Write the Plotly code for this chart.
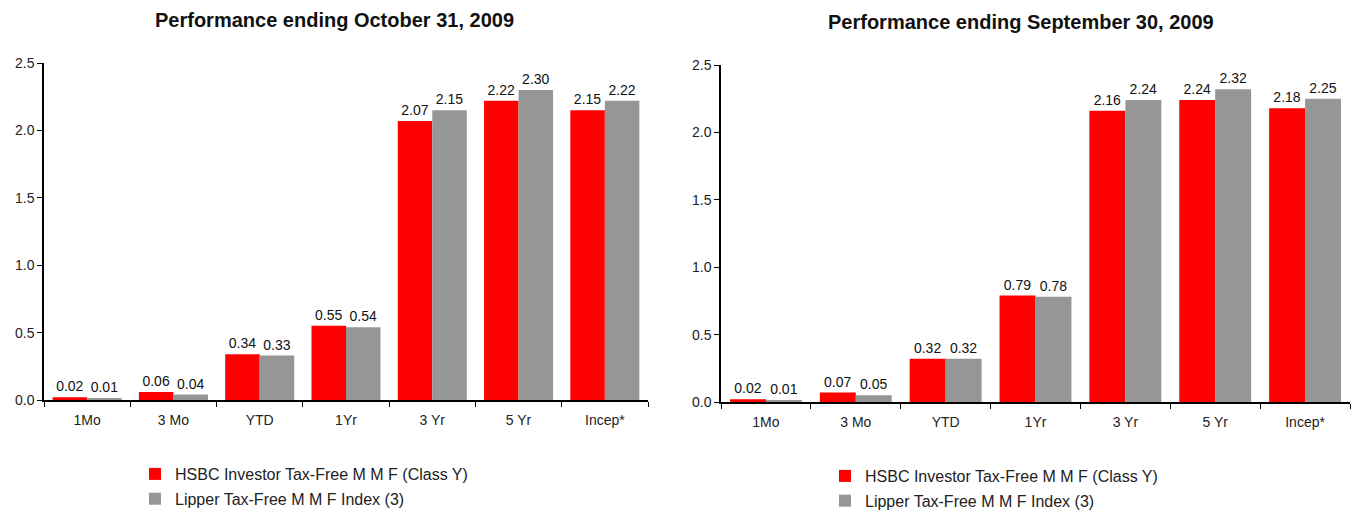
import plotly.graph_objects as go

categories = ["1Mo", "3 Mo", "YTD", "1Yr", "3 Yr", "5 Yr", "Incep*"]
oct_hsbc = [0.02, 0.06, 0.34, 0.55, 2.07, 2.22, 2.15]
oct_lipper = [0.01, 0.04, 0.33, 0.54, 2.15, 2.30, 2.22]
sep_hsbc = [0.02, 0.07, 0.32, 0.79, 2.16, 2.24, 2.18]
sep_lipper = [0.01, 0.05, 0.32, 0.78, 2.24, 2.32, 2.25]
series_names = ["HSBC Investor Tax-Free M M F (Class Y)", "Lipper Tax-Free M M F Index (3)"]
titles = ["Performance ending October 31, 2009", "Performance ending September 30, 2009"]
y_ticks = [0.0, 0.5, 1.0, 1.5, 2.0, 2.5]

RED = "#FF0000"
GRAY = "#969696"
FONT = "Liberation Sans, Arial, sans-serif"
W, H = 1356, 511

fig = go.Figure()

def add_pair(h, l, xa, ya, leg):
    for i, (vals, name, col) in enumerate([(h, series_names[0], RED), (l, series_names[1], GRAY)]):
        fig.add_trace(go.Bar(
            x=categories, y=vals, name=name, marker=dict(color=col, line=dict(width=0)),
            text=[f"{v:.2f}" for v in vals], textposition="outside",
            textfont=dict(size=14, color="#111", family=FONT), cliponaxis=False,
            constraintext="none", legendgroup=f"{leg}_{i}",
            xaxis=xa, yaxis=ya, legend=leg,
        ))

add_pair(oct_hsbc, oct_lipper, "x", "y", "legend")
add_pair(sep_hsbc, sep_lipper, "x2", "y2", "legend2")

def px_x(v):
    return v / W

def px_y(v):
    return 1 - v / H

axis_common = dict(showline=True, linecolor="black", linewidth=1.5, showgrid=False, zeroline=False,
                   ticks="outside", ticklen=5, tickcolor="black", automargin=False,
                   tickfont=dict(size=14, color="#222", family=FONT))

legend_common = dict(xanchor="left", yanchor="top", font=dict(size=16, color="#222", family=FONT),
                     tracegroupgap=1, itemwidth=30, bgcolor="rgba(0,0,0,0)")

fig.update_layout(
    width=W, height=H, margin=dict(l=0, r=0, t=0, b=0, autoexpand=False),
    plot_bgcolor="white", paper_bgcolor="white",
    barmode="group", bargap=0.2, bargroupgap=0.0,
    font=dict(family=FONT),
    xaxis=dict(domain=[px_x(44), px_x(648)], anchor="y", tickson="boundaries",
               ticklabelstandoff=6, **axis_common),
    yaxis=dict(domain=[px_y(400), px_y(63)], anchor="x", range=[0, 2.5], tickvals=y_ticks,
               tickformat=".1f", **axis_common),
    xaxis2=dict(domain=[px_x(721), px_x(1350)], anchor="y2", tickson="boundaries",
                ticklabelstandoff=6, **axis_common),
    yaxis2=dict(domain=[px_y(402), px_y(65)], anchor="x2", range=[0, 2.5], tickvals=y_ticks,
                tickformat=".1f", **axis_common),
    legend=dict(x=px_x(135), y=px_y(457), **legend_common),
    legend2=dict(x=px_x(825), y=px_y(459), **legend_common),
    annotations=[
        dict(text=f"<b>{titles[0]}</b>", x=px_x(334), y=px_y(20), xref="paper", yref="paper",
             xanchor="center", yanchor="middle", showarrow=False,
             font=dict(size=20, color="#111", family=FONT)),
        dict(text=f"<b>{titles[1]}</b>", x=px_x(1021), y=px_y(22), xref="paper", yref="paper",
             xanchor="center", yanchor="middle", showarrow=False,
             font=dict(size=20, color="#111", family=FONT)),
    ],
)

fig.write_html("out.html", config={"displayModeBar": False},
               post_script="document.body.style.margin='0';document.body.style.padding='0';")
